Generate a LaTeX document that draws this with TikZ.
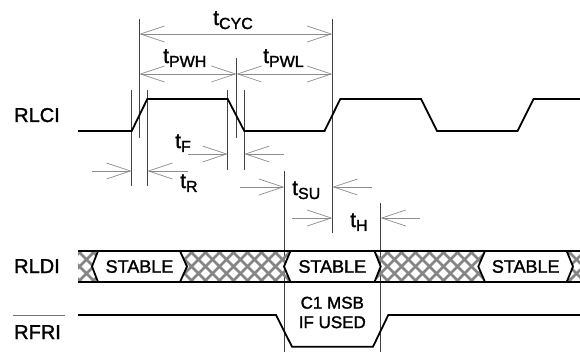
\documentclass[tikz,border=0pt]{standalone}
\usepackage{fontspec}
\setmainfont{Liberation Sans}[BoldFont=Liberation Sans, BoldFeatures={FakeBold=1.6}]
\usetikzlibrary{arrows.meta}
\newcommand\tsym[1]{{\fontsize{21}{21}\selectfont t}\raisebox{-4pt}{\fontsize{16}{16}\selectfont #1}}
\begin{document}
\begin{tikzpicture}[x=1pt,y=-1pt,
  font=\bfseries,
  sig/.style={line width=1.8pt, line join=miter, line cap=butt},
  guide/.style={line width=0.7pt, black!75},
  dim/.style={line width=0.7pt, black!45},
  dimtip/.tip={Straight Barb[length=24pt,width=16pt,line width=0.7pt]},
  hatchline/.style={line width=2.8pt, black!48},
  lab/.style={inner sep=0pt, anchor=base west, font=\bfseries\fontsize{20}{20}\selectfont},
  tlab/.style={inner sep=0pt, anchor=base west, font=\bfseries},
  stab/.style={inner sep=0pt, font=\bfseries\fontsize{18}{18}\selectfont}
]
\useasboundingbox (0,0) rectangle (580,352);

% vertical guide lines
\draw[guide] (131.7,90) -- (131.7,186);
\draw[guide] (139.3,19) -- (139.3,138);
\draw[guide] (147.3,90) -- (147.3,186);
\draw[guide] (227.7,90) -- (227.7,170);
\draw[guide] (236.5,58) -- (236.5,138);
\draw[guide] (244.3,90) -- (244.3,170);
\draw[guide] (332.3,19) -- (332.3,233);
\draw[guide] (284,171) -- (284,352);
\draw[guide] (380.7,203) -- (380.7,352);

% dimension arrows
\coordinate (cycL) at (139.3,34); \coordinate (cycR) at (332.3,34);
\draw[dim,dimtip-dimtip] (cycL) -- (cycR);
\coordinate (pwL) at (139.3,74); \coordinate (pwM) at (236.5,74); \coordinate (pwR) at (332.3,74);
\draw[dim,dimtip-dimtip] (pwL) -- (pwM);
\draw[dim,dimtip-dimtip] (pwM) -- (pwR);
% tF
\coordinate (tfa) at (188,154); \coordinate (tfb) at (227.7,154);
\coordinate (tfc) at (284,154); \coordinate (tfd) at (244.3,154);
\draw[dim,-dimtip] (tfa) -- (tfb);
\draw[dim,-dimtip] (tfc) -- (tfd);
% tR
\coordinate (tra) at (92,171); \coordinate (trb) at (131.7,171);
\coordinate (trc) at (188,171); \coordinate (trd) at (147.3,171);
\draw[dim,-dimtip] (tra) -- (trb);
\draw[dim,-dimtip] (trc) -- (trd);
% tSU
\coordinate (sua) at (240,187); \coordinate (sub) at (284,187);
\coordinate (suc) at (372,187); \coordinate (sud) at (332.3,187);
\draw[dim,-dimtip] (sua) -- (sub);
\draw[dim,-dimtip] (suc) -- (sud);
% tH
\coordinate (ha) at (292,218); \coordinate (hb) at (332.3,218);
\coordinate (hc) at (420,218); \coordinate (hd) at (380.7,218);
\draw[dim,-dimtip] (ha) -- (hb);
\draw[dim,-dimtip] (hc) -- (hd);

% timing labels
\node[tlab] (tcyc) at (213,25) {\tsym{CYC}};
\node[tlab] (tpwh) at (163,63) {\tsym{PWH}};
\node[tlab] (tpwl) at (263,63) {\tsym{PWL}};
\node[tlab] (tf) at (175,148) {\tsym{F}};
\node[tlab] (tr) at (180,188) {\tsym{R}};
\node[tlab] (tsu) at (292,195) {\tsym{SU}};
\node[tlab] (th) at (350,227) {\tsym{H}};

% signal names
\node[lab] (rlci) at (14,122) {RLCI};
\node[lab] (rldi) at (14,273) {RLDI};
\node[lab] (rfri) at (14,339) {RFRI};
\draw[line width=1.4pt, black!55] (13,315.7) -- (65,315.7);

% RLCI waveform
\draw[sig] (78,131) -- (131.7,131) -- (147.3,99) -- (227.7,99) -- (244.3,131)
  -- (324.5,131) -- (340.3,99) -- (421,99) -- (437,131) -- (517.5,131) -- (533.5,99) -- (580,99);

% RLDI bus hatch
\begin{scope}
  \clip (78,251) rectangle (580,282);
  \foreach \i in {50,64,...,600} {
    \draw[hatchline] (\i,251) -- (\i+31,282);
    \draw[hatchline] (\i,282) -- (\i+31,251);
  }
\end{scope}
\filldraw[sig, fill=white] (92,266.5) -- (98,251) -- (180,251) -- (187,266.5) -- (180,282) -- (98,282) -- cycle;
\filldraw[sig, fill=white] (284,266.5) -- (290.5,251) -- (374.5,251) -- (380.7,266.5) -- (374.5,282) -- (290.5,282) -- cycle;
\filldraw[sig, fill=white] (478.3,266.5) -- (485,251) -- (566.7,251) -- (573,266.5) -- (566.7,282) -- (485,282) -- cycle;
\draw[sig] (78,251) -- (580,251);
\draw[sig] (78,282) -- (580,282);
\node[stab] (s1) at (139.5,266.5) {STABLE};
\node[stab] (s2) at (332.3,266.5) {STABLE};
\node[stab] (s3) at (525.7,266.5) {STABLE};

% RFRI waveform
\draw[sig] (78,315) -- (276,315) -- (292,346.7) -- (373,346.7) -- (388.3,315) -- (580,315);
\node[inner sep=0pt, align=center, font=\bfseries\fontsize{17}{19.5}\selectfont] (c1) at (332.3,312.5) {C1 MSB\\IF USED};
\end{tikzpicture}
\end{document}
